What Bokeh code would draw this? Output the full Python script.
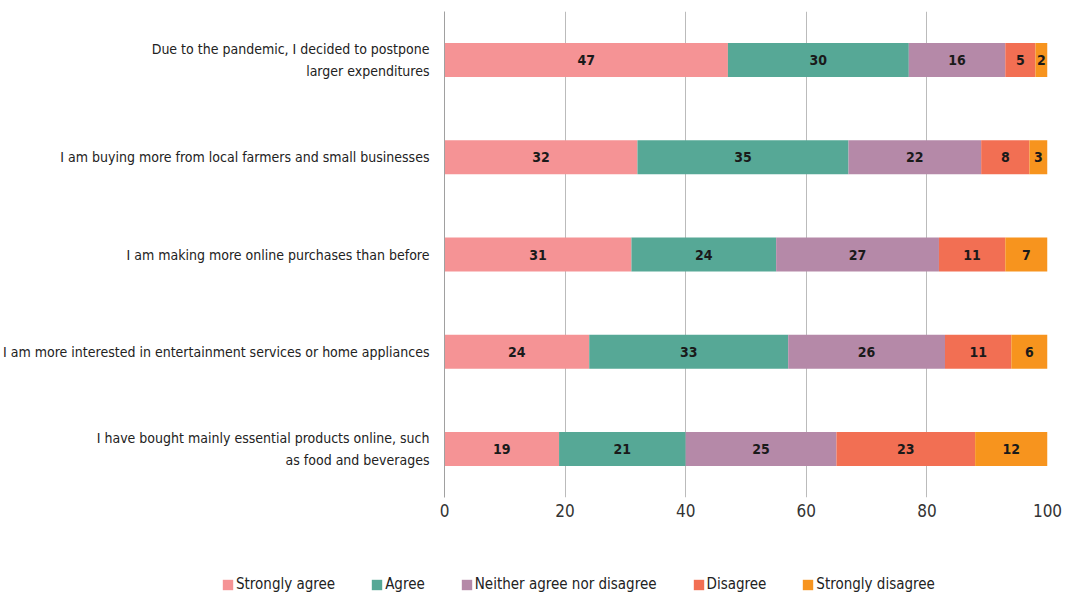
import numpy as np
from bokeh.plotting import figure
from bokeh.layouts import column
from bokeh.models import FactorRange, ColumnDataSource, LabelSet, Legend, FixedTicker, Range1d
from bokeh.core.properties import value
from bokeh.embed import file_html
from bokeh.resources import INLINE

categories = [
    "Due to the pandemic, I decided to postpone\nlarger expenditures",
    "I am buying more from local farmers and small businesses",
    "I am making more online purchases than before",
    "I am more interested in entertainment services or home appliances",
    "I have bought mainly essential products online, such\nas food and beverages",
]
series = ["Strongly agree", "Agree", "Neither agree nor disagree", "Disagree", "Strongly disagree"]
strongly_agree = [47, 32, 31, 24, 19]
agree = [30, 35, 24, 33, 21]
neither = [16, 22, 27, 26, 25]
disagree = [5, 8, 11, 11, 23]
strongly_disagree = [2, 3, 7, 6, 12]
x_ticks = [0, 20, 40, 60, 80, 100]

colors = ["#F59395", "#56A896", "#B589A8", "#F26F53", "#F7941E"]
FONT = "DejaVu Sans Condensed"

p = figure(frame_width=603, frame_height=486, output_backend="svg", toolbar_location=None,
           y_range=FactorRange(factors=categories[::-1]), x_range=(0, 100),
           min_border_left=438, min_border_right=18, min_border_top=11, min_border_bottom=30)
p.outline_line_color = None
p.background_fill_color = "white"
p.border_fill_color = "white"
p.frame_align = False

vals = [strongly_agree, agree, neither, disagree, strongly_disagree]
left = np.zeros(len(categories))
label_x, label_y, label_t = [], [], []
for name, v, c in zip(series, vals, colors):
    v = np.array(v, dtype=float)
    src = ColumnDataSource(dict(y=categories, left=left.copy(), right=left + v))
    p.hbar(y="y", left="left", right="right", height=0.35, source=src,
           fill_color=c, line_color=None)
    label_x += list(left + v / 2)
    label_y += categories
    label_t += [str(int(x)) for x in v]
    left = left + v

lsrc = ColumnDataSource(dict(x=label_x, y=label_y, t=label_t))
labels = LabelSet(x="x", y="y", text="t", source=lsrc, text_align="center",
                  text_baseline="middle", text_font=value(FONT), text_font_size="14px",
                  text_font_style="bold", text_color="#1a1a1a")
p.add_layout(labels)

p.xaxis.ticker = FixedTicker(ticks=x_ticks)
p.xaxis.axis_line_color = None
p.xaxis.major_tick_line_color = None
p.xaxis.minor_tick_line_color = None
p.xaxis.major_label_text_font = FONT
p.xaxis.major_label_text_font_size = "17px"
p.xaxis.major_label_text_color = "#333333"
p.xaxis.major_label_standoff = 0

p.yaxis.axis_line_color = "#A0A0A0"
p.yaxis.axis_line_width = 1
p.yaxis.major_tick_line_color = None
p.yaxis.minor_tick_line_color = None
p.yaxis.major_label_text_font = FONT
p.yaxis.major_label_text_font_size = "14px"
p.yaxis.major_label_text_color = "#222222"
p.yaxis.major_label_standoff = 9
p.yaxis.major_label_text_line_height = 1.4

p.ygrid.grid_line_color = None
p.xgrid.ticker = FixedTicker(ticks=x_ticks)
p.xgrid.grid_line_color = "#BBBBBB"
p.xgrid.grid_line_width = 1

# legend strip below the chart (proxy glyphs sit outside its visible range)
lf = figure(width=1059, height=70, output_backend="svg", toolbar_location=None,
            x_axis_location=None, y_axis_location=None,
            x_range=Range1d(0, 1), y_range=Range1d(0, 1),
            min_border_left=0, min_border_right=0, min_border_top=0, min_border_bottom=0)
lf.outline_line_color = None
lf.xgrid.grid_line_color = None
lf.ygrid.grid_line_color = None
lf.frame_align = False
items = []
for name, c in zip(series, colors):
    r = lf.rect(x=[-5], y=[-5], width=0.1, height=0.1, fill_color=c, line_color=None)
    items.append((name, [r]))
legend = Legend(items=items, orientation="horizontal", location=(221, 4),
                label_text_font=FONT, label_text_font_size="15px", label_text_color="#222222",
                glyph_width=13, glyph_height=13, label_standoff=2, spacing=35,
                border_line_color=None, background_fill_alpha=0, padding=4, margin=0)
lf.add_layout(legend, "center")

layout = column(p, lf, spacing=0)
open("out.html", "w").write(file_html(layout, INLINE))
